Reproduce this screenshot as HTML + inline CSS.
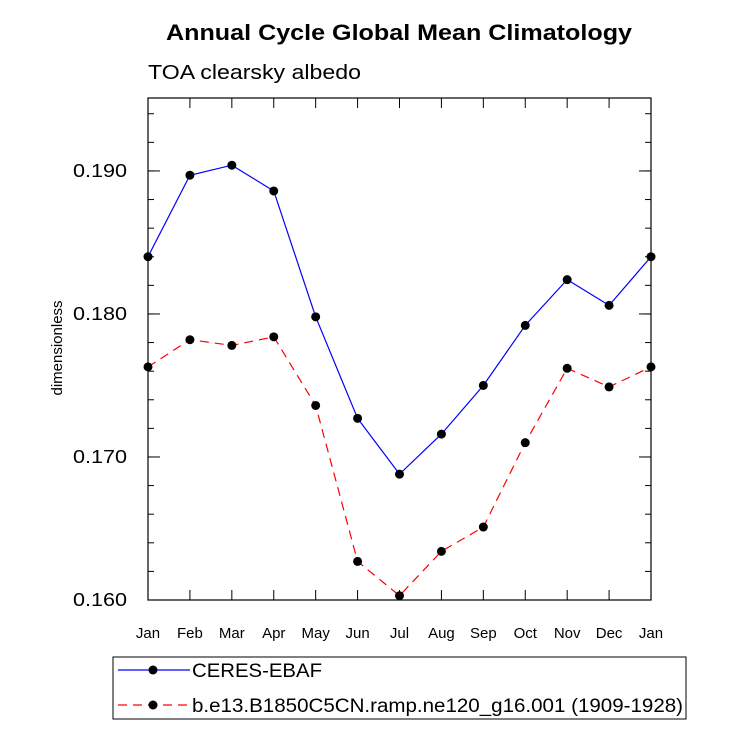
<!DOCTYPE html>
<html><head><meta charset="utf-8"><style>
html,body{margin:0;padding:0;background:#fff;}
svg{display:block;font-family:"Liberation Sans",sans-serif;}
</style></head><body>
<svg id="chart" width="733" height="730" viewBox="0 0 733 730">
<text x="399" y="40" text-anchor="middle" font-size="22" font-weight="bold" textLength="466" lengthAdjust="spacingAndGlyphs">Annual Cycle Global Mean Climatology</text>
<text x="148" y="79" font-size="20" textLength="213" lengthAdjust="spacingAndGlyphs">TOA clearsky albedo</text>
<text transform="translate(62,348) rotate(-90)" text-anchor="middle" font-size="15">dimensionless</text>
<rect x="148" y="98" width="503" height="502" fill="none" stroke="#000" stroke-width="1.2"/>
<g id="axes"></g>
<g id="series"></g>
<g>
<rect x="113" y="657" width="573" height="62" fill="none" stroke="#000" stroke-width="1"/>
<g>
<line x1="118" y1="670" x2="190" y2="670" stroke="#0000ff" stroke-width="1.2"/>
<circle cx="153" cy="670" r="4.5" fill="#000"/>
<text x="192" y="677" font-size="19" textLength="130" lengthAdjust="spacingAndGlyphs">CERES-EBAF</text></g>
<g>
<line x1="118" y1="705" x2="190" y2="705" stroke="#ff0000" stroke-width="1.2" stroke-dasharray="9,6"/>
<circle cx="153" cy="705" r="4.5" fill="#000"/>
<text x="192" y="712" font-size="19" textLength="491" lengthAdjust="spacingAndGlyphs">b.e13.B1850C5CN.ramp.ne120_g16.001 (1909-1928)</text></g>
</g>
</svg>
<script>
const months = ["Jan","Feb","Mar","Apr","May","Jun","Jul","Aug","Sep","Oct","Nov","Dec","Jan"];
const ceres = [0.1840,0.1897,0.1904,0.1886,0.1798,0.1727,0.1688,0.1716,0.1750,0.1792,0.1824,0.1806,0.1840];
const model = [0.1763,0.1782,0.1778,0.1784,0.1736,0.1627,0.1603,0.1634,0.1651,0.1710,0.1762,0.1749,0.1763];
const yTicks = [0.160,0.170,0.180,0.190];
const yTickLabels = ["0.160","0.170","0.180","0.190"];
const NS="http://www.w3.org/2000/svg";
const X0=148,X1=651,Y0=600,Y1=98,YMIN=0.16,YMAX=0.1951;
function xs(i){return X0+(X1-X0)*i/(months.length-1);}
function ys(v){return Y0-(v-YMIN)/(YMAX-YMIN)*(Y0-Y1);}
function mk(t,a,p){const e=document.createElementNS(NS,t);for(const k in a)e.setAttribute(k,a[k]);p.appendChild(e);return e;}
const ax=document.getElementById('axes');
months.forEach((m,i)=>{
  const x=xs(i);
  const t1=mk('line',{x1:x,y1:Y0,x2:x,y2:Y0-10,stroke:'#000'},ax);
  
  
  mk('line',{x1:x,y1:Y1,x2:x,y2:Y1+10,stroke:'#000'},ax);
  const l=mk('text',{x:x,y:638,'text-anchor':'middle','font-size':15},ax);
  l.textContent=m;
  
  
});
for(let v=0.160;v<=0.1951;v+=0.002){
  const y=ys(v);
  mk('line',{x1:X0,y1:y,x2:X0+6,y2:y,stroke:'#000'},ax);
  mk('line',{x1:X1,y1:y,x2:X1-6,y2:y,stroke:'#000'},ax);
}
yTicks.forEach((v,i)=>{
  const y=ys(v);
  mk('line',{x1:X0,y1:y,x2:X0+12,y2:y,stroke:'#000'},ax);
  mk('line',{x1:X1,y1:y,x2:X1-12,y2:y,stroke:'#000'},ax);
  const l=mk('text',{x:127,y:y+6,'text-anchor':'end','font-size':18,textLength:54,lengthAdjust:'spacingAndGlyphs'},ax);
  l.textContent=yTickLabels[i];
  
  
});
const sg=document.getElementById('series');
function draw(vals,color,dash,name){
  const pts=vals.map((v,i)=>xs(i)+','+ys(v)).join(' ');
  const pl=mk('polyline',{points:pts,fill:'none',stroke:color,'stroke-width':1.2},sg);
  if(dash)pl.setAttribute('stroke-dasharray',dash);
  
  
  vals.forEach((v,i)=>{
    const c=mk('circle',{cx:xs(i),cy:ys(v),r:4.5,fill:'#000'},sg);
    
    
  });
}
draw(ceres,'#0000ff',null,'ceres');
draw(model,'#ff0000','9,6','model');
</script>
</body></html>
